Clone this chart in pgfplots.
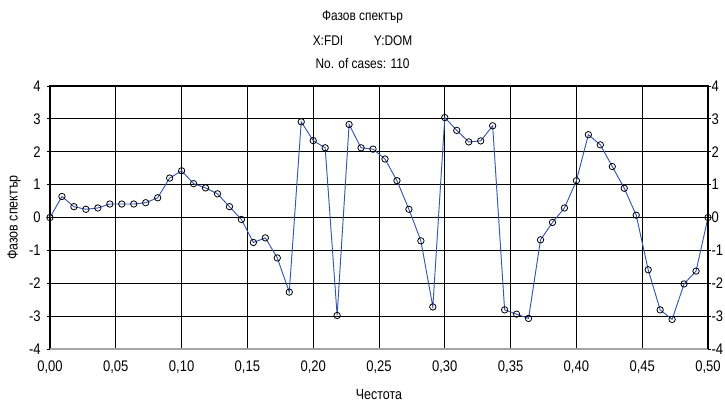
\documentclass[border=0pt]{standalone}
\usepackage{pgfplots}
\pgfplotsset{compat=1.18}
\usepackage{pgfplotstable}
\usepackage{fontspec}
\setmainfont{Liberation Sans}[FakeStretch=0.85]

\definecolor{serie}{RGB}{55,85,175}

% phase spectrum, frequency k/110
\pgfplotstableread{
f ph
0.00000 0.00
0.00909 0.64
0.01818 0.33
0.02727 0.25
0.03636 0.29
0.04545 0.41
0.05455 0.41
0.06364 0.41
0.07273 0.45
0.08182 0.60
0.09091 1.20
0.10000 1.42
0.10909 1.03
0.11818 0.90
0.12727 0.72
0.13636 0.33
0.14545 -0.06
0.15455 -0.76
0.16364 -0.62
0.17273 -1.23
0.18182 -2.27
0.19091 2.91
0.20000 2.34
0.20909 2.12
0.21818 -2.98
0.22727 2.83
0.23636 2.12
0.24545 2.08
0.25455 1.78
0.26364 1.12
0.27273 0.25
0.28182 -0.71
0.29091 -2.72
0.30000 3.04
0.30909 2.65
0.31818 2.30
0.32727 2.33
0.33636 2.79
0.34545 -2.81
0.35455 -2.94
0.36364 -3.07
0.37273 -0.68
0.38182 -0.15
0.39091 0.29
0.40000 1.12
0.40909 2.52
0.41818 2.21
0.42727 1.55
0.43636 0.89
0.44545 0.07
0.45455 -1.59
0.46364 -2.81
0.47273 -3.10
0.48182 -2.02
0.49091 -1.63
0.50000 0.00
}\phase

\begin{document}
\begin{tikzpicture}
\useasboundingbox (-37.5pt,-40.5pt) rectangle (506.25pt,261.75pt);
\begin{axis}[
    scale only axis,
    width=493.5pt, height=197.25pt,
    xmin=0, xmax=0.5, ymin=-4, ymax=4,
    xtick={0,0.05,...,0.5},
    xticklabels={{0,00},{0,05},{0,10},{0,15},{0,20},{0,25},{0,30},{0,35},{0,40},{0,45},{0,50}},
    ytick={-4,-3,...,4},
    yticklabels={-4,-3,-2,-1,0,1,2,3,4},
    grid=major,
    major grid style={black, line width=0.6pt},
    axis line style={black, line width=0.8pt},
    tick align=outside,
    xtick style={draw=none},
    ytick style={black, line width=0.6pt},
    major tick length=2.5pt,
    ytick pos=left,
    tick label style={font=\fontsize{11.5}{13}\selectfont},
    xticklabel style={yshift=-3pt},
    yticklabel style={xshift=-1pt},
    clip=false,
]
\addplot[serie, line width=0.7pt, mark=o,
    mark options={black, line width=0.6pt, mark size=2.4pt}] table[x=f, y=ph] {\phase};
\draw[gray!70, line width=2pt] (axis cs:0,-4) -- (axis cs:0.5,-4);
\end{axis}
\begin{axis}[
    scale only axis,
    width=493.5pt, height=197.25pt,
    xmin=0, xmax=0.5, ymin=-4, ymax=4,
    axis x line=none,
    axis y line*=right,
    axis line style={-, black, line width=0.8pt},
    ytick={-4,-3,...,4},
    yticklabels={-4,-3,-2,-1,0,1,2,3,4},
    tick align=outside,
    ytick style={black, line width=0.6pt},
    major tick length=2pt,
    tick label style={font=\fontsize{11.5}{13}\selectfont},
    yticklabel style={inner sep=0.5pt, xshift=0pt},
]
\end{axis}
\begin{scope}[font=\fontsize{10.5}{12}\selectfont]
\node at (234.4pt,249pt) {Фазов спектър};
\node at (234.4pt,231pt) {X:FDI\hspace{2.2em}Y:DOM};
\node at (234.4pt,213.75pt) {No. of cases: 110};
\end{scope}
\node[rotate=90, font=\fontsize{11}{13}\selectfont] at (-27pt,98.6pt) {Фазов спектър};
\node[font=\fontsize{11}{13}\selectfont] at (246.75pt,-34.5pt) {Честота};
\end{tikzpicture}
\end{document}
